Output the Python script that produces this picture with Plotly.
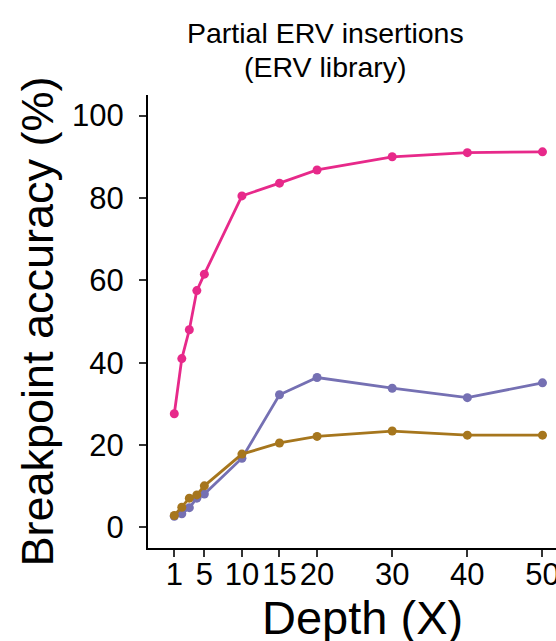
import plotly.graph_objects as go

# Sequencing depth (X) and breakpoint accuracy (%) for three callers
depth = [1, 2, 3, 4, 5, 10, 15, 20, 30, 40, 50]
acc_pink = [27.6, 41.0, 48.0, 57.5, 61.5, 80.5, 83.6, 86.8, 90.0, 91.0, 91.2]
acc_purple = [2.7, 3.3, 4.8, 7.1, 8.1, 16.8, 32.2, 36.4, 33.8, 31.5, 35.1]
acc_brown = [2.9, 4.9, 7.1, 7.9, 10.1, 17.8, 20.5, 22.1, 23.4, 22.4, 22.4]
x_ticks = [1, 5, 10, 15, 20, 30, 40, 50]
y_ticks = [0, 20, 40, 60, 80, 100]

FONT = "Liberation Sans, Arial, sans-serif"
W, H = 556, 641
L, R, T, B = 148, 0, 95, 93
PW, PH = W - L - R, H - T - B


def px_x(px):
    """Figure pixel column -> paper x."""
    return (px - L) / PW


def px_y(py):
    """Figure pixel row -> paper y."""
    return 1 + (T - py) / PH


fig = go.Figure()
for ys, col in [(acc_purple, "#7570B3"), (acc_brown, "#A6761D"), (acc_pink, "#E7298A")]:
    fig.add_trace(go.Scatter(
        x=depth, y=ys, mode="lines+markers",
        line=dict(color=col, width=2.8),
        marker=dict(color=col, size=9),
        showlegend=False, cliponaxis=False,
    ))

axis_common = dict(
    showline=True, linecolor="black", linewidth=2,
    ticks="outside", ticklen=7, tickwidth=2, tickcolor="#333333",
    showgrid=False, zeroline=False,
    tickfont=dict(family=FONT, size=31, color="black"),
    ticklabeloverflow="allow",
)

fig.update_xaxes(range=[-2.5, 51.8], tickvals=x_ticks, ticktext=[str(v) for v in x_ticks],
                 ticklabelstandoff=-9, **axis_common)
fig.update_yaxes(range=[-5, 105], tickvals=y_ticks,
                 ticklabelstandoff=9,
                 title=dict(text="Breakpoint accuracy (%)", font=dict(family=FONT, size=45, color="black"),
                            standoff=4),
                 **axis_common)

# x-axis title
fig.add_annotation(text="Depth (X)", x=px_x(362), y=px_y(617), xref="paper", yref="paper",
                   xanchor="center", yanchor="middle", showarrow=False,
                   font=dict(family=FONT, size=47, color="black"))
# panel title, two lines
for txt, cy in [("Partial ERV insertions", 33), ("(ERV library)", 67)]:
    fig.add_annotation(text=txt, x=px_x(325), y=px_y(cy), xref="paper", yref="paper",
                       xanchor="center", yanchor="middle", showarrow=False,
                       font=dict(family=FONT, size=28.5, color="black"))

fig.update_layout(
    width=W, height=H,
    margin=dict(l=L, r=R, t=T, b=B, autoexpand=False),
    paper_bgcolor="white", plot_bgcolor="white",
)

fig.write_html("out.html")
